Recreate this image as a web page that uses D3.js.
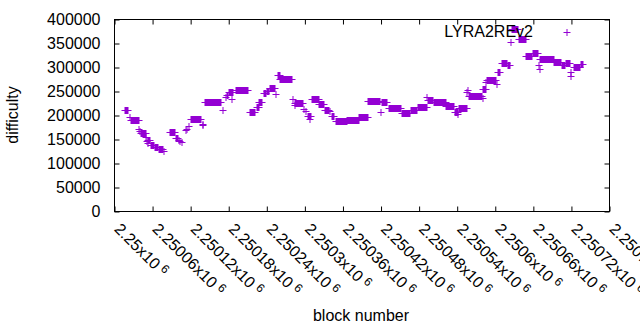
<!DOCTYPE html>
<html>
<head>
<meta charset="utf-8">
<script src="https://cdn.jsdelivr.net/npm/d3@7/dist/d3.min.js"></script>
<style>
  body { margin: 0; background: #fff; }
  text { font-family: "Liberation Sans", Arial, sans-serif; fill: #000; }
</style>
</head>
<body>
<script>
// runs of consecutive blocks sitting at (about) the same difficulty
const blockFrom = [
  2250016, 2250024, 2250026, 2250039, 2250040, 2250041, 2250050, 2250051, 2250052, 2250053,
  2250057, 2250064, 2250070, 2250078, 2250087, 2250097, 2250101, 2250103, 2250106, 2250112,
  2250114, 2250117, 2250121, 2250139, 2250140, 2250142, 2250171, 2250175, 2250177, 2250181,
  2250185, 2250191, 2250213, 2250224, 2250228, 2250236, 2250240, 2250245, 2250254, 2250258,
  2250261, 2250282, 2250284, 2250285, 2250299, 2250302, 2250305, 2250308, 2250311, 2250323,
  2250332, 2250340, 2250342, 2250349, 2250367, 2250386, 2250400, 2250420, 2250421, 2250432,
  2250453, 2250467, 2250478, 2250493, 2250494, 2250503, 2250523, 2250536, 2250541, 2250543,
  2250556, 2250557, 2250558, 2250580, 2250581, 2250586, 2250587, 2250603, 2250605, 2250611,
  2250620, 2250624, 2250627, 2250637, 2250649, 2250659, 2250669, 2250670, 2250671, 2250693,
  2250705, 2250711, 2250719, 2250720, 2250724, 2250735
]
const blockTo = [
  2250021, 2250024, 2250038, 2250039, 2250040, 2250049, 2250050, 2250051, 2250052, 2250056,
  2250062, 2250068, 2250076, 2250078, 2250096, 2250100, 2250101, 2250103, 2250106, 2250112,
  2250115, 2250117, 2250136, 2250139, 2250140, 2250168, 2250171, 2250175, 2250179, 2250187,
  2250185, 2250210, 2250222, 2250227, 2250232, 2250239, 2250244, 2250253, 2250254, 2250260,
  2250280, 2250282, 2250284, 2250297, 2250299, 2250302, 2250310, 2250308, 2250322, 2250330,
  2250338, 2250340, 2250346, 2250366, 2250385, 2250399, 2250419, 2250420, 2250430, 2250451,
  2250466, 2250477, 2250492, 2250493, 2250502, 2250522, 2250535, 2250542, 2250541, 2250555,
  2250556, 2250557, 2250579, 2250580, 2250585, 2250586, 2250601, 2250603, 2250608, 2250619,
  2250623, 2250624, 2250636, 2250648, 2250658, 2250668, 2250669, 2250670, 2250692, 2250704,
  2250710, 2250718, 2250719, 2250720, 2250734, 2250739
]
const difficulty = [
  212000, 196000, 191000, 172000, 168000, 164000, 155000, 146000, 143000, 148000,
  139000, 135000, 131000, 127000, 165000, 153000, 150000, 146000, 144000, 169000,
  172000, 178000, 192000, 183000, 180000, 228000, 212000, 238000, 242000, 248000,
  235000, 254000, 207000, 218000, 229000, 246000, 252000, 258000, 245000, 285000,
  276000, 235000, 222000, 226000, 214000, 209000, 199000, 193000, 235000, 224000,
  212000, 210000, 199000, 188000, 191000, 197000, 230000, 208000, 228000, 216000,
  206000, 212000, 218000, 238000, 233000, 229000, 219000, 207000, 203000, 215000,
  250000, 253000, 240000, 237000, 256000, 270000, 275000, 266000, 290000, 310000,
  305000, 353000, 380000, 360000, 323000, 330000, 305000, 296000, 318000, 312000,
  305000, 309000, 290000, 283000, 302000, 308000
]

const seriesName = 'LYRA2REv2'
const xTickValues = [2250000, 2250060, 2250120, 2250180, 2250240, 2250300, 2250360,
  2250420, 2250480, 2250540, 2250600, 2250660, 2250720, 2250780]
const xTickLabels = ['2.25', '2.25006', '2.25012', '2.25018', '2.25024', '2.2503', '2.25036',
  '2.25042', '2.25048', '2.25054', '2.2506', '2.25066', '2.25072', '2.25078']
const yTickValues = [0, 50000, 100000, 150000, 200000, 250000, 300000, 350000, 400000]

const w = 640
const h = 330
const plotLeft = 114.5, plotRight = 609.5, plotTop = 19.5, plotBottom = 211.5
const color = '#9400d3'
const fontSize = 16

const xScale = d3.scaleLinear().domain([2250000, 2250780]).range([plotLeft, plotRight])
const yScale = d3.scaleLinear().domain([0, 400000]).range([plotBottom, plotTop])

const svg = d3.select('body')
  .append('svg')
  .attr('width', w)
  .attr('height', h)

const runs = blockFrom.map((b, i) => ({ from: b, to: blockTo[i], d: difficulty[i] }))

// each run: a row of "+" marks, drawn as a filled bar with the arms sticking out
svg.append('g')
  .selectAll('rect')
  .data(runs)
  .enter()
  .append('rect')
  .attr('x', (d) => Math.round(xScale(d.from)) - 0.5)
  .attr('y', (d) => Math.round(yScale(d.d)) - 3)
  .attr('width', (d) => Math.round(xScale(d.to)) - Math.round(xScale(d.from)) + 1)
  .attr('height', 7)
  .attr('fill', color)

svg.append('g')
  .selectAll('line')
  .data(runs)
  .enter()
  .append('line')
  .attr('x1', (d) => Math.round(xScale(d.from)) - 3.5)
  .attr('x2', (d) => Math.round(xScale(d.to)) + 3.5)
  .attr('y1', (d) => Math.round(yScale(d.d)) + 0.5)
  .attr('y2', (d) => Math.round(yScale(d.d)) + 0.5)
  .attr('stroke', color)
  .attr('stroke-width', 1)

// ticks on all four sides, pointing in
const tickSide = (axis, tx, ty) => {
  const g = svg.append('g')
    .attr('transform', `translate(${tx}, ${ty})`)
    .call(axis)
  g.select('.domain').remove()
  g.selectAll('.tick line').attr('stroke', '#000')
  return g
}

tickSide(d3.axisBottom(xScale).tickValues(xTickValues).tickSize(-5).tickFormat(''), 0, plotBottom)
tickSide(d3.axisTop(xScale).tickValues(xTickValues.slice(0, -1)).tickSize(-5).tickFormat(''), 0, plotTop)
tickSide(d3.axisRight(yScale).tickValues(yTickValues).tickSize(-5).tickFormat(''), plotRight, 0)

const yAxis = tickSide(d3.axisLeft(yScale).tickValues(yTickValues).tickSize(-5).tickPadding(14).tickFormat(d3.format('d')), plotLeft, 0)
yAxis.selectAll('text')
  .attr('font-size', fontSize)
  .attr('font-family', '"Liberation Sans", Arial, sans-serif')

svg.append('rect')
  .attr('x', plotLeft)
  .attr('y', plotTop)
  .attr('width', plotRight - plotLeft)
  .attr('height', plotBottom - plotTop)
  .attr('fill', 'none')
  .attr('stroke', '#000')

// rotated x tick labels like 2.25006x10^6
const xLabels = svg.append('g')
  .selectAll('text')
  .data(xTickValues)
  .enter()
  .append('text')
  .attr('transform', (d) => `translate(${xScale(d) - 1}, 230) rotate(45)`)
  .attr('font-size', fontSize)

xLabels.append('tspan').text((d, i) => xTickLabels[i] + 'x10')
xLabels.append('tspan')
  .attr('dx', 4)
  .attr('dy', -5)
  .attr('font-size', 12)
  .text('6')

svg.append('text')
  .attr('x', 361)
  .attr('y', 321)
  .attr('text-anchor', 'middle')
  .attr('font-size', fontSize)
  .text('block number')

svg.append('text')
  .attr('transform', 'translate(18, 115) rotate(-90)')
  .attr('text-anchor', 'middle')
  .attr('font-size', fontSize)
  .text('difficulty')

// key, top right
svg.append('text')
  .attr('x', 533)
  .attr('y', 37)
  .attr('text-anchor', 'end')
  .attr('font-size', fontSize)
  .text(seriesName)

svg.append('path')
  .attr('d', 'M563.5,32.5H570.5M567,29V36')
  .attr('stroke', color)
  .attr('fill', 'none')
</script>
</body>
</html>
